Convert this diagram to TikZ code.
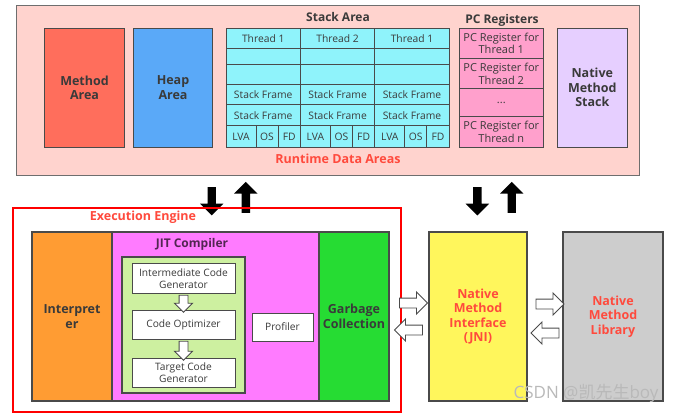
\documentclass[tikz,border=0pt]{standalone}
\usepackage{fontspec}
\setmainfont{Open Sans}
\newfontfamily\cjkfont{Noto Sans CJK SC}
\usetikzlibrary{shapes.arrows}

\definecolor{rdapink}{HTML}{FFD3CE}
\definecolor{methodred}{HTML}{FF6E5C}
\definecolor{heapblue}{HTML}{5AA9F8}
\definecolor{stackcyan}{HTML}{8FF3FB}
\definecolor{pcpink}{HTML}{FFA0CC}
\definecolor{nmslilac}{HTML}{E6CFFF}
\definecolor{interporange}{HTML}{FF9C33}
\definecolor{jitmagenta}{HTML}{FF7BFF}
\definecolor{optgreen}{HTML}{CDF0A0}
\definecolor{gcgreen}{HTML}{26DC33}
\definecolor{jniyellow}{HTML}{FFF65C}
\definecolor{libgray}{HTML}{CDCDCD}
\definecolor{labelred}{HTML}{FF4A3D}
\definecolor{edge}{HTML}{4A4A4A}
\definecolor{ink}{HTML}{3A3A3A}

\tikzset{
  box/.style={draw=edge, line width=1.1pt, inner sep=0pt, align=center, text=ink,
    font=\fontsize{12.5}{14.5}\selectfont\bfseries},
  cell/.style={draw=edge, line width=1pt, inner sep=0pt, fill=stackcyan, text=ink,
    font=\fontsize{10.3}{11}\selectfont},
  pcreg/.style={draw=edge, line width=1pt, inner sep=0pt, fill=pcpink, align=center, text=ink,
    minimum width=84pt, font=\fontsize{11}{12.7}\selectfont},
  stage/.style={draw=edge, line width=1pt, inner sep=0pt, fill=white, align=center, text=ink,
    minimum width=103pt, minimum height=29pt, font=\fontsize{10.2}{11.5}\selectfont},
  title/.style={text=ink, font=\fontsize{12}{14}\selectfont\bfseries},
  redtitle/.style={text=labelred, font=\fontsize{12.5}{14}\selectfont\bfseries},
  blackarrow/.style={shape=single arrow, fill=black, inner sep=4pt, minimum width=23pt,
    minimum height=29pt, single arrow head extend=7.5pt, single arrow head indent=0pt},
  hollowarrow/.style={shape=single arrow, draw=edge, fill=white, line width=0.9pt, inner sep=4.5pt,
    minimum width=21pt, minimum height=28pt, single arrow head extend=6pt}
}

\begin{document}
\begin{tikzpicture}[x=1pt, y=-1pt]
  \useasboundingbox[fill=white] (0,0) rectangle (683,414);

  \node at (328.4,90.9) [box, fill=rdapink, draw=edge!80, minimum width=623pt, minimum height=170pt] (rda) {};
  \node at (84.5,87.8) [box, fill=methodred, minimum width=80.4pt, minimum height=119pt] (method) {Method\\Area};
  \node at (173,87.8) [box, fill=heapblue, minimum width=79.4pt, minimum height=119pt] (heap) {Heap\\Area};

  \node at (338,17) [title] (stacklbl) {Stack Area};
  \foreach \c/\x/\t in {1/263.2/Thread 1, 2/337.6/Thread 2, 3/412/Thread 1} {
    \node at (\x,38.4) [cell, minimum width=74.4pt, minimum height=19.8pt] (th\c) {\t};
    \node at (\x,56.65) [cell, minimum width=74.4pt, minimum height=16.7pt] (ea\c) {};
    \node at (\x,75) [cell, minimum width=74.4pt, minimum height=20pt] (eb\c) {};
    \node at (\x,95) [cell, minimum width=74.4pt, minimum height=20pt] (sfa\c) {Stack Frame};
    \node at (\x,115.5) [cell, minimum width=74.4pt, minimum height=21pt] (sfb\c) {Stack Frame};
    \node at (\x-22.2,136.75) [cell, minimum width=30pt, minimum height=21.5pt] (lva\c) {LVA};
    \node at (\x+3.8,136.75) [cell, minimum width=22pt, minimum height=21.5pt] (os\c) {OS};
    \node at (\x+26,136.75) [cell, minimum width=22.4pt, minimum height=21.5pt] (fd\c) {FD};
  }

  \node at (502,20) [title] (pclbl) {PC Registers};
  \node at (501.3,43.3) [pcreg, minimum height=30pt] (pc1) {PC Register for\\Thread 1};
  \node at (501.3,73.65) [pcreg, minimum height=30.7pt] (pc2) {PC Register for\\Thread 2};
  \node at (501.3,102.85) [pcreg, minimum height=27.7pt] (pcdots) {...};
  \node at (501.3,132) [pcreg, minimum height=30.6pt] (pcn) {PC Register for\\Thread n};

  \node at (592.3,87.8) [box, fill=nmslilac, minimum width=70pt, minimum height=119pt] (nms) {Native\\Method\\Stack};
  \node at (338,159) [redtitle] (rdalbl) {Runtime Data Areas};

  \node at (211.7,199.2) [blackarrow, shape border rotate=270, minimum height=28.3pt] (down1) {};
  \node at (245.8,199.5) [blackarrow, shape border rotate=90, minimum height=31pt] (up1) {};
  \node at (477.3,199.2) [blackarrow, shape border rotate=270, minimum height=28.3pt] (down2) {};
  \node at (511.7,199.5) [blackarrow, shape border rotate=90, minimum height=31pt] (up2) {};

  \node at (207,310) [draw=red, line width=1.5pt, minimum width=388pt, minimum height=204pt] (engine) {};
  \node at (143,217) [redtitle] (enginelbl) {Execution Engine};
  \node at (72,316.5) [box, fill=interporange, minimum width=80pt, minimum height=169pt] (interp) {Interpret\\er};
  \node at (215.5,316.5) [box, fill=jitmagenta, minimum width=207pt, minimum height=169pt] (jit) {};
  \node at (354,316.5) [box, fill=gcgreen, minimum width=70pt, minimum height=169pt] (gc) {Garbage\\Collection};
  \node at (192,244) [title, text=ink!65!violet] (jitlbl) {JIT Compiler};
  \node at (183.5,325) [box, fill=optgreen, minimum width=123pt, minimum height=136pt] (jitbox) {};
  \node at (183.5,278.5) [stage] (icg) {Intermediate Code\\Generator};
  \node at (183.5,324.5) [stage] (opt) {Code Optimizer};
  \node at (183.5,372.5) [stage] (tcg) {Target Code\\Generator};
  \node at (282.5,327) [stage, minimum width=61pt, minimum height=28pt] (prof) {Profiler};
  \node at (183.5,301.5) [hollowarrow, shape border rotate=270, inner sep=4pt, minimum width=17pt,
    minimum height=17pt, single arrow head extend=4.5pt] (a1) {};
  \node at (183.5,348.5) [hollowarrow, shape border rotate=270, inner sep=4pt, minimum width=17pt,
    minimum height=19pt, single arrow head extend=4.5pt] (a2) {};

  \node at (478,316.5) [box, fill=jniyellow, text=labelred, minimum width=98pt, minimum height=169pt] (jni) {Native\\Method\\Interface\\(JNI)};
  \node at (613,316.5) [box, fill=libgray, text=labelred, minimum width=100pt, minimum height=169pt] (lib) {Native\\Method\\Library};

  \node at (411,303) [hollowarrow] (gcjni) {};
  \node at (411,330) [hollowarrow, shape border rotate=180] (jnigc) {};
  \node at (547.5,304) [hollowarrow] (jnilib) {};
  \node at (547.5,333) [hollowarrow, shape border rotate=180] (libjni) {};

  \node at (586,393) [text=gray!55, font=\fontsize{17}{19}\selectfont] (mark) {CSDN @{\cjkfont 凯先生}boy};
\end{tikzpicture}
\end{document}
